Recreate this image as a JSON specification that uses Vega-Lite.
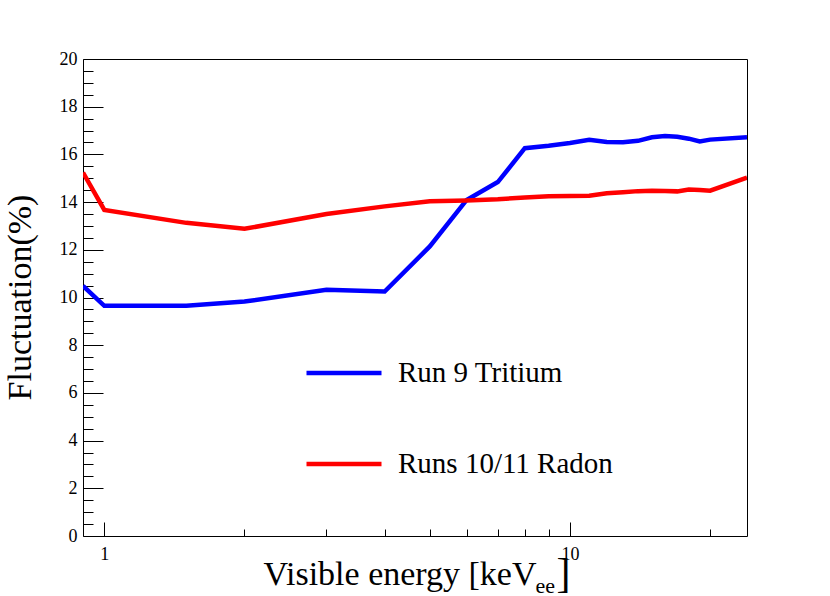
{
  "$schema": "https://vega.github.io/schema/vega-lite/v6.json",
  "width": 664,
  "height": 477,
  "autosize": "none",
  "padding": {"left": 83, "top": 59, "right": 83, "bottom": 60},
  "background": "white",
  "config": {
    "view": {"stroke": "black", "strokeWidth": 1},
    "font": "Liberation Serif",
    "axis": {
      "domain": false,
      "grid": false,
      "tickColor": "black",
      "labelColor": "black",
      "titleColor": "black",
      "labelFont": "Liberation Serif",
      "titleFont": "Liberation Serif",
      "titleFontWeight": "normal"
    },
    "legend": {"labelFont": "Liberation Serif"}
  },
  "data": {
    "values": [
      {"series": "Run 9 Tritium", "energy": 0.9, "fluct": 10.49},
      {"series": "Run 9 Tritium", "energy": 1, "fluct": 9.65},
      {"series": "Run 9 Tritium", "energy": 1.5, "fluct": 9.65},
      {"series": "Run 9 Tritium", "energy": 2, "fluct": 9.83},
      {"series": "Run 9 Tritium", "energy": 3, "fluct": 10.32},
      {"series": "Run 9 Tritium", "energy": 4, "fluct": 10.25},
      {"series": "Run 9 Tritium", "energy": 5, "fluct": 12.14},
      {"series": "Run 9 Tritium", "energy": 6, "fluct": 14.09},
      {"series": "Run 9 Tritium", "energy": 7, "fluct": 14.84},
      {"series": "Run 9 Tritium", "energy": 8, "fluct": 16.26},
      {"series": "Run 9 Tritium", "energy": 9, "fluct": 16.36},
      {"series": "Run 9 Tritium", "energy": 10, "fluct": 16.48},
      {"series": "Run 9 Tritium", "energy": 11, "fluct": 16.61},
      {"series": "Run 9 Tritium", "energy": 12, "fluct": 16.52},
      {"series": "Run 9 Tritium", "energy": 13, "fluct": 16.51},
      {"series": "Run 9 Tritium", "energy": 14, "fluct": 16.57},
      {"series": "Run 9 Tritium", "energy": 15, "fluct": 16.72},
      {"series": "Run 9 Tritium", "energy": 16, "fluct": 16.77},
      {"series": "Run 9 Tritium", "energy": 17, "fluct": 16.74},
      {"series": "Run 9 Tritium", "energy": 18, "fluct": 16.66},
      {"series": "Run 9 Tritium", "energy": 19, "fluct": 16.54},
      {"series": "Run 9 Tritium", "energy": 20, "fluct": 16.62},
      {"series": "Run 9 Tritium", "energy": 24, "fluct": 16.72},
      {"series": "Runs 10/11 Radon", "energy": 0.9, "fluct": 15.24},
      {"series": "Runs 10/11 Radon", "energy": 1, "fluct": 13.67},
      {"series": "Runs 10/11 Radon", "energy": 1.5, "fluct": 13.13},
      {"series": "Runs 10/11 Radon", "energy": 2, "fluct": 12.88},
      {"series": "Runs 10/11 Radon", "energy": 3, "fluct": 13.5},
      {"series": "Runs 10/11 Radon", "energy": 4, "fluct": 13.82},
      {"series": "Runs 10/11 Radon", "energy": 5, "fluct": 14.04},
      {"series": "Runs 10/11 Radon", "energy": 6, "fluct": 14.07},
      {"series": "Runs 10/11 Radon", "energy": 7, "fluct": 14.12},
      {"series": "Runs 10/11 Radon", "energy": 8, "fluct": 14.19},
      {"series": "Runs 10/11 Radon", "energy": 9, "fluct": 14.25},
      {"series": "Runs 10/11 Radon", "energy": 10, "fluct": 14.26},
      {"series": "Runs 10/11 Radon", "energy": 11, "fluct": 14.27},
      {"series": "Runs 10/11 Radon", "energy": 12, "fluct": 14.37},
      {"series": "Runs 10/11 Radon", "energy": 13, "fluct": 14.41},
      {"series": "Runs 10/11 Radon", "energy": 14, "fluct": 14.46},
      {"series": "Runs 10/11 Radon", "energy": 15, "fluct": 14.48},
      {"series": "Runs 10/11 Radon", "energy": 16, "fluct": 14.47},
      {"series": "Runs 10/11 Radon", "energy": 17, "fluct": 14.45},
      {"series": "Runs 10/11 Radon", "energy": 18, "fluct": 14.53},
      {"series": "Runs 10/11 Radon", "energy": 19, "fluct": 14.51},
      {"series": "Runs 10/11 Radon", "energy": 20, "fluct": 14.48},
      {"series": "Runs 10/11 Radon", "energy": 24, "fluct": 15.03}
    ]
  },
  "resolve": {"axis": {"x": "independent", "y": "independent"}},
  "layer": [
    {
      "mark": {"type": "line", "strokeWidth": 4.5, "clip": true},
      "encoding": {
        "x": {
          "field": "energy",
          "type": "quantitative",
          "scale": {"type": "log", "domain": [0.9, 24], "nice": false},
          "axis": {
            "orient": "bottom",
            "values": [1, 10],
            "format": "d",
            "tickSize": -14,
            "labelFontSize": 18,
            "labelPadding": 23,
            "title": "Visible energy [keV",
            "titleFontSize": 34,
            "titleX": 453,
            "titleY": 48,
            "titleAlign": "right",
            "titleBaseline": "alphabetic"
          }
        },
        "y": {
          "field": "fluct",
          "type": "quantitative",
          "scale": {"domain": [0, 20], "nice": false, "zero": false},
          "axis": {
            "orient": "left",
            "values": [0, 2, 4, 6, 8, 10, 12, 14, 16, 18, 20],
            "tickSize": -20,
            "labelFontSize": 18,
            "labelPadding": 26,
            "title": "Fluctuation(%)",
            "titleFontSize": 34,
            "titleAngle": 270,
            "titleX": -63,
            "titleY": 238,
            "titleAlign": "center",
            "titleBaseline": "middle"
          }
        },
        "color": {
          "field": "series",
          "type": "nominal",
          "scale": {"domain": ["Run 9 Tritium", "Runs 10/11 Radon"], "range": ["#0000ff", "#ff0000"]},
          "legend": {
            "orient": "none",
            "legendX": 221,
            "legendY": 274,
            "direction": "vertical",
            "title": null,
            "padding": 0,
            "symbolType": "stroke",
            "symbolSize": 5625,
            "symbolStrokeWidth": 4.5,
            "labelFont": "Liberation Serif",
            "labelFontSize": 29,
            "labelColor": "black",
            "labelLimit": 0,
            "labelOffset": 14,
            "rowPadding": 36
          }
        }
      }
    },
    {
      "mark": {"type": "point", "opacity": 0},
      "encoding": {
        "x": {
          "field": "energy",
          "type": "quantitative",
          "axis": {
            "orient": "bottom",
            "values": [2, 3, 4, 5, 6, 7, 8, 9, 20],
            "tickSize": -7,
            "labels": false,
            "title": "ee",
            "titleFontSize": 22,
            "titleX": 452,
            "titleY": 56,
            "titleAlign": "left",
            "titleBaseline": "alphabetic"
          }
        },
        "y": {
          "field": "fluct",
          "type": "quantitative",
          "axis": {
            "orient": "left",
            "values": [0.5, 1, 1.5, 2.5, 3, 3.5, 4.5, 5, 5.5, 6.5, 7, 7.5, 8.5, 9, 9.5, 10.5, 11, 11.5, 12.5, 13, 13.5, 14.5, 15, 15.5, 16.5, 17, 17.5, 18.5, 19, 19.5],
            "tickSize": -10,
            "labels": false,
            "title": null
          }
        }
      }
    },
    {
      "mark": {"type": "point", "opacity": 0},
      "encoding": {
        "x": {
          "field": "energy",
          "type": "quantitative",
          "axis": {
            "orient": "bottom",
            "values": [],
            "ticks": false,
            "labels": false,
            "title": "]",
            "titleFontSize": 42,
            "titleX": 473,
            "titleY": 50,
            "titleAlign": "left",
            "titleBaseline": "alphabetic"
          }
        },
        "y": {"field": "fluct", "type": "quantitative", "axis": null}
      }
    }
  ]
}
